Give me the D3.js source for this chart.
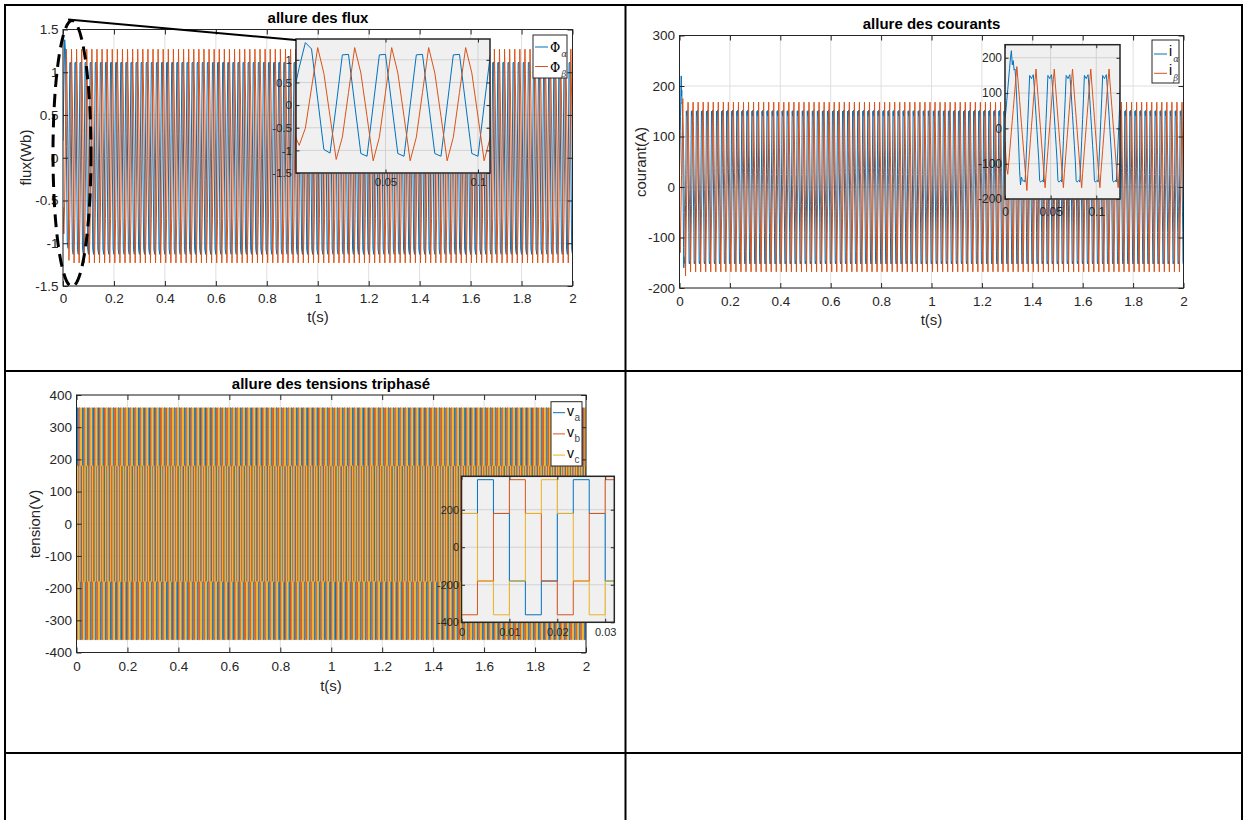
<!DOCTYPE html>
<html>
<head>
<meta charset="utf-8">
<script src="https://cdn.jsdelivr.net/npm/d3@7"></script>
<style>
    body { margin: 0; background: #fff; }
    svg { display: block; }
</style>
</head>
<body>
<svg id="page" width="1244" height="820"></svg>
<script>
// ---- tick labels ----
const timeTicks = [0, 0.2, 0.4, 0.6, 0.8, 1, 1.2, 1.4, 1.6, 1.8, 2];
const fluxTicks = [-1.5, -1, -0.5, 0, 0.5, 1, 1.5];
const fluxZoomXTicks = [0.05, 0.1];
const fluxZoomYTicks = [-1.5, -1, -0.5, 0, 0.5, 1];
const courantTicks = [-200, -100, 0, 100, 200, 300];
const courantZoomXTicks = [0, 0.05, 0.1];
const courantZoomYTicks = [-200, -100, 0, 100, 200];
const tensionTicks = [-400, -300, -200, -100, 0, 100, 200, 300, 400];
const tensionZoomXTicks = [0, 0.01, 0.02, 0.03];
const tensionZoomYTicks = [-400, -200, 0, 200];

// ---- legends ----
const fluxLegend = [['\u03A6', '\u03B1'], ['\u03A6', '\u03B2']];
const courantLegend = [['i', '\u03B1'], ['i', '\u03B2']];
const tensionLegend = [['v', 'a'], ['v', 'b'], ['v', 'c']];

// ---- flux (Wb), one sample every 1/300 s ----
// first samples read off the zoom, then one steady cycle (6 samples) repeated for each period
const fluxStep = 1 / 300;
const fluxAlphaStart = [0.2, 0.83, 1.38, 1.24, 0.13, -0.98, -1.06];
const fluxBetaStart = [-0.58, -0.89, -0.51, 0.38, 1.27, 0.70, -0.25, -1.2];
const fluxAlphaCycle = [-1.13, -0.01, 1.11, 1.12, 0.02, -1.07];
const fluxBetaCycle = [-0.25, -1.23, -0.71, 0.28, 1.27, 0.71];

// ---- courants (A), one sample every 1 ms, period = 20 samples ----
const courantStep = 0.001;
const iAlphaStart = [30, 50, 80, 110, 140, 170, 200, 220, 180, 192, 165, 168, 130, 75, 15, -50, -120, -160, -138, -145];
const iBetaStart = [-40, -80, -115, -130, -100, -69, -39, -8, 23, 53, 84, 114, 145, 175, 143, 111, 79, 46, 14, -18, -50, -82, -114, -147, -176];
const iAlphaCycle = [-150, -147, -152, -95, -35, 25, 85, 150, 146, 141, 147, 152, 120, 78, 36, -6, -48, -90, -148, -152];
const iBetaCycle = [-39, -73, -107, -141, -168, -128, -95, -62, -28, 5, 38, 72, 105, 138, 168, 131, 97, 63, 29, -5];

// ---- tensions (V), six-step, one level every 1/300 s ----
const tensionStep = 1 / 300;
const vaCycle = [180, 360, 180, -180, -360, -180];
const vbCycle = [-360, -180, 180, 360, 180, -180];
const vcCycle = [180, -180, -360, -180, 180, 360];

const FONT = '"Liberation Sans", Arial, Helvetica, sans-serif';
const BLUE = '#0072BD', ORANGE = '#D95319', YELLOW = '#EDB120';
const INK = '#262626';

const svg = d3.select('#page').attr('font-family', FONT);
const defs = svg.append('defs');
let clipCount = 0;

function periodic(start, cycle, step, tEnd) {
    const n = Math.round(tEnd / step);
    return d3.range(n + 1).map(k => [k * step, k < start.length ? start[k] : cycle[k % cycle.length]]);
}

function makeAxes(box, xDom, yDom, xTicks, yTicks, o) {
    const x = d3.scaleLinear().domain(xDom).range([box.left, box.right]);
    const y = d3.scaleLinear().domain(yDom).range([box.bottom, box.top]);
    const w = box.right - box.left, h = box.bottom - box.top;
    const g = svg.append('g');
    g.append('rect').attr('x', box.left).attr('y', box.top).attr('width', w).attr('height', h).attr('fill', o.bg);

    g.append('g').selectAll('line').data(xTicks).join('line')
        .attr('x1', d => x(d)).attr('x2', d => x(d))
        .attr('y1', box.top).attr('y2', box.bottom)
        .attr('stroke', o.grid);
    g.append('g').selectAll('line').data(yTicks).join('line')
        .attr('x1', box.left).attr('x2', box.right)
        .attr('y1', d => y(d)).attr('y2', d => y(d))
        .attr('stroke', o.grid);

    const id = 'clip' + (clipCount++);
    defs.append('clipPath').attr('id', id)
        .append('rect').attr('x', box.left).attr('y', box.top).attr('width', w).attr('height', h);
    const layer = g.append('g').attr('clip-path', `url(#${id})`);
    return {x, y, g, layer, box, xTicks, yTicks, o};
}

function plotLine(ax, data, color, curve) {
    ax.layer.append('path')
        .datum(data)
        .attr('fill', 'none')
        .attr('stroke', color)
        .attr('stroke-width', 1)
        .attr('d', d3.line().x(d => ax.x(d[0])).y(d => ax.y(d[1])).curve(curve || d3.curveLinear));
}

function finishAxes(ax) {
    const {x, y, g, box, xTicks, yTicks, o} = ax;
    const fmt = d => String(+d.toFixed(3));
    const addAxis = (axis, tx, ty, labels) => {
        const a = g.append('g')
            .attr('transform', `translate(${tx},${ty})`)
            .call(axis.tickSize(-o.tick).tickFormat(labels ? fmt : ''));
        a.attr('font-family', FONT).attr('font-size', o.font);
        a.select('.domain').remove();
        a.selectAll('.tick line').attr('stroke', INK);
        a.selectAll('.tick text').attr('fill', INK);
    };
    addAxis(d3.axisBottom(x).tickValues(xTicks).tickPadding(o.xPad), 0, box.bottom, true);
    addAxis(d3.axisTop(x).tickValues(xTicks), 0, box.top, false);
    addAxis(d3.axisLeft(y).tickValues(yTicks).tickPadding(o.yPad), box.left, 0, true);
    addAxis(d3.axisRight(y).tickValues(yTicks), box.right, 0, false);

    g.append('rect')
        .attr('x', box.left).attr('y', box.top)
        .attr('width', box.right - box.left).attr('height', box.bottom - box.top)
        .attr('fill', 'none').attr('stroke', INK).attr('stroke-width', o.frame);
}

function drawLegend(box, labels, colors, o) {
    const g = svg.append('g');
    g.append('rect')
        .attr('x', box.left).attr('y', box.top)
        .attr('width', box.right - box.left).attr('height', box.bottom - box.top)
        .attr('fill', '#fff').attr('stroke', INK).attr('stroke-width', 1);
    labels.forEach((lab, i) => {
        const cy = box.top + o.first + i * o.step;
        g.append('line')
            .attr('x1', box.left + 2).attr('x2', box.left + 2 + o.lineLen)
            .attr('y1', cy).attr('y2', cy)
            .attr('stroke', colors[i]).attr('stroke-width', 1);
        const t = g.append('text')
            .attr('x', box.left + 4 + o.lineLen)
            .attr('y', cy + o.base)
            .attr('fill', '#000');
        t.append('tspan').text(lab[0])
            .attr('font-family', o.mainFont).attr('font-size', o.mainSize);
        t.append('tspan').text(lab[1])
            .attr('dx', o.subDx).attr('dy', o.subDy)
            .attr('font-family', o.subFont).attr('font-size', o.subSize)
            .attr('font-style', o.subItalic ? 'italic' : 'normal')
            .attr('fill', '#444');
    });
}

function title(txt, x, y) {
    svg.append('text').attr('x', x).attr('y', y)
        .attr('text-anchor', 'middle').attr('font-weight', 'bold').attr('font-size', 15)
        .attr('fill', '#000').text(txt);
}

function xLabel(txt, x, y) {
    svg.append('text').attr('x', x).attr('y', y)
        .attr('text-anchor', 'middle').attr('font-size', 15).attr('fill', INK).text(txt);
}

function yLabel(txt, x, y) {
    svg.append('text')
        .attr('transform', `translate(${x},${y}) rotate(-90)`)
        .attr('text-anchor', 'middle').attr('font-size', 15).attr('fill', INK).text(txt);
}

// ---- series ----
const fluxAlpha = periodic(fluxAlphaStart, fluxAlphaCycle, fluxStep, 2);
const fluxBeta = periodic(fluxBetaStart, fluxBetaCycle, fluxStep, 2);
const iAlpha = periodic(iAlphaStart, iAlphaCycle, courantStep, 2);
const iBeta = periodic(iBetaStart, iBetaCycle, courantStep, 2);
const va = periodic([], vaCycle, tensionStep, 2);
const vb = periodic([], vbCycle, tensionStep, 2);
const vc = periodic([], vcCycle, tensionStep, 2);

const mainStyle = {bg: '#fff', grid: '#dfdfdf', tick: 5, font: 13.5, yPad: 4.5, frame: 1};

// ---- panel 1 : flux ----
const fluxAx = makeAxes({left: 63, right: 572.5, top: 29.5, bottom: 286}, [0, 2], [-1.5, 1.5],
    timeTicks, fluxTicks, {...mainStyle, xPad: 7.5});
plotLine(fluxAx, fluxAlpha, BLUE);
plotLine(fluxAx, fluxBeta, ORANGE);
finishAxes(fluxAx);
title('allure des flux', 318, 23);
xLabel('t(s)', 318, 322);
yLabel('flux(Wb)', 31, 157.5);
drawLegend({left: 533, top: 35, right: 567, bottom: 78}, fluxLegend, [BLUE, ORANGE],
    {first: 12, step: 19.5, lineLen: 13, base: 5, mainFont: '"DejaVu Serif", serif', mainSize: 12.5,
     subFont: '"DejaVu Serif", serif', subSize: 9, subDx: 1, subDy: 5, subItalic: true});

const fluxZoom = makeAxes({left: 296, right: 490, top: 39, bottom: 173}, [0.0016, 0.1065], [-1.5, 1.46],
    fluxZoomXTicks, fluxZoomYTicks, {bg: '#f0f0f0', grid: '#d2d2d2', tick: 3.5, font: 11.5, xPad: 5, yPad: 4, frame: 1.5});
plotLine(fluxZoom, fluxAlpha, BLUE);
plotLine(fluxZoom, fluxBeta, ORANGE);
finishAxes(fluxZoom);

// zoom marker: dashed ellipse and link to the inset
svg.append('ellipse')
    .attr('cx', 72).attr('cy', 153.5).attr('rx', 19).attr('ry', 133)
    .attr('fill', 'none').attr('stroke', '#000').attr('stroke-width', 3)
    .attr('stroke-dasharray', '13,7');
svg.append('line')
    .attr('x1', 68).attr('y1', 19.5).attr('x2', 296).attr('y2', 40)
    .attr('stroke', '#000').attr('stroke-width', 2);

// ---- panel 2 : courants ----
const courantAx = makeAxes({left: 679.5, right: 1183.5, top: 35.5, bottom: 288}, [0, 2], [-200, 300],
    timeTicks, courantTicks, {...mainStyle, xPad: 8.5});
plotLine(courantAx, iAlpha, BLUE);
plotLine(courantAx, iBeta, ORANGE);
finishAxes(courantAx);
title('allure des courants', 931.5, 29);
xLabel('t(s)', 931.5, 325);
yLabel('courant(A)', 646, 162);
drawLegend({left: 1152, top: 40, right: 1179, bottom: 83}, courantLegend, [BLUE, ORANGE],
    {first: 14, step: 19.3, lineLen: 13, base: 1.5, mainFont: FONT, mainSize: 14,
     subFont: '"DejaVu Serif", serif', subSize: 8.5, subDx: 1, subDy: 6, subItalic: true});

const courantZoom = makeAxes({left: 1005, right: 1120, top: 44.7, bottom: 199}, [0, 0.126], [-200, 237],
    courantZoomXTicks, courantZoomYTicks, {bg: '#f0f0f0', grid: '#d2d2d2', tick: 3.5, font: 12, xPad: 8, yPad: 3, frame: 1.5});
plotLine(courantZoom, iAlpha, BLUE);
plotLine(courantZoom, iBeta, ORANGE);
finishAxes(courantZoom);

// ---- panel 3 : tensions ----
const tensionAx = makeAxes({left: 76.5, right: 586, top: 395, bottom: 652.5}, [0, 2], [-400, 400],
    timeTicks, tensionTicks, {...mainStyle, xPad: 9});
plotLine(tensionAx, va, BLUE, d3.curveStepAfter);
plotLine(tensionAx, vb, ORANGE, d3.curveStepAfter);
plotLine(tensionAx, vc, YELLOW, d3.curveStepAfter);
finishAxes(tensionAx);
title('allure des tensions triphasé', 331, 388.5);
xLabel('t(s)', 331, 691);
yLabel('tension(V)', 40, 524);
drawLegend({left: 551, top: 401.7, right: 582, bottom: 466}, tensionLegend, [BLUE, ORANGE, YELLOW],
    {first: 11, step: 21.2, lineLen: 12, base: 3, mainFont: FONT, mainSize: 14,
     subFont: FONT, subSize: 10, subDx: 0.5, subDy: 5, subItalic: false});

const tensionZoom = makeAxes({left: 461.5, right: 614.3, top: 476.3, bottom: 622.3}, [0, 0.0319], [-400, 378],
    tensionZoomXTicks, tensionZoomYTicks, {bg: '#f0f0f0', grid: '#d2d2d2', tick: 3.5, font: 11, xPad: 5.5, yPad: 2.5, frame: 1.5});
plotLine(tensionZoom, va, BLUE, d3.curveStepAfter);
plotLine(tensionZoom, vb, ORANGE, d3.curveStepAfter);
plotLine(tensionZoom, vc, YELLOW, d3.curveStepAfter);
finishAxes(tensionZoom);

// ---- document table borders ----
const table = svg.append('g').attr('stroke', '#000').attr('stroke-width', 2).attr('fill', 'none');
table.append('rect').attr('x', 5).attr('y', 5).attr('width', 1237).attr('height', 840);
table.append('line').attr('x1', 625.5).attr('x2', 625.5).attr('y1', 5).attr('y2', 820);
table.append('line').attr('x1', 5).attr('x2', 1242).attr('y1', 371).attr('y2', 371);
table.append('line').attr('x1', 5).attr('x2', 1242).attr('y1', 753).attr('y2', 753);
</script>
</body>
</html>
